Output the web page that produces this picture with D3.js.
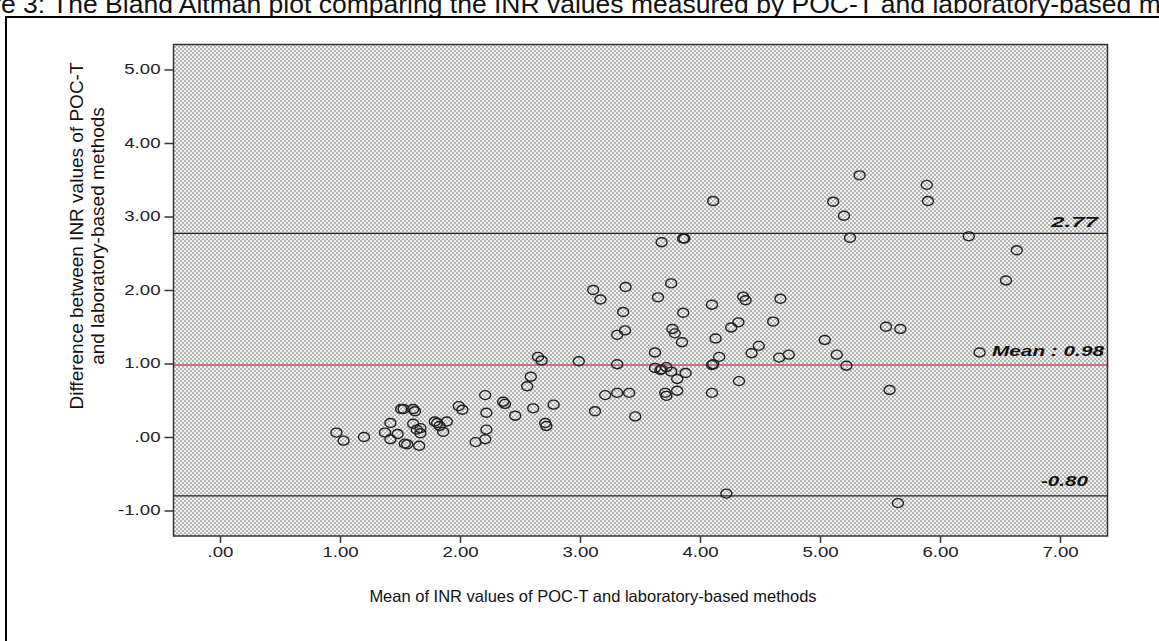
<!DOCTYPE html>
<html>
<head>
<meta charset="utf-8">
<script src="https://cdn.jsdelivr.net/npm/d3@7"></script>
<style>
  body { margin: 0; background: #fff; }
  svg { display: block; font-family: Arial, "Liberation Sans", sans-serif; }
</style>
</head>
<body>
<svg id="chart" width="1159" height="641"></svg>
<script>
// mean of the two methods (x) and their difference (y)
var meanVals = [
  0.97, 1.03, 1.20, 1.375, 1.42, 1.42, 1.48, 1.51, 1.53, 1.54, 1.56, 1.61, 1.625, 1.61, 1.64,
  1.67, 1.67, 1.66, 1.79, 1.81, 1.83, 1.89, 1.86, 1.99, 2.02, 2.13, 2.21, 2.22, 2.22, 2.21,
  3.11, 3.38, 3.76, 3.17, 3.65, 3.36, 3.86, 4.10, 4.36, 4.38, 4.67, 4.61, 4.32, 4.26, 4.13,
  3.77, 3.79, 3.85, 3.375, 3.31, 3.625, 4.49, 4.43, 4.74, 4.66, 4.16, 4.11, 4.10, 2.65, 2.68,
  2.99, 3.31, 3.625, 3.67, 3.72, 3.76, 3.88, 3.81, 3.68, 2.59, 2.56, 2.36, 2.375, 2.46, 2.61,
  2.78, 2.71, 2.72, 3.21, 3.31, 3.41, 3.125, 3.46, 3.71, 3.72, 3.81, 4.10, 4.325, 4.22,
  4.11, 3.68, 3.86, 3.87,
  5.33, 5.11, 5.20, 5.25, 5.89, 5.90, 6.24, 6.64, 6.55,
  5.55, 5.67, 5.04, 5.14, 5.22, 6.33, 5.58, 5.65
];
var diffVals = [
  0.06, -0.05, 0.00, 0.06, 0.19, -0.03, 0.04, 0.38, 0.38, -0.09, -0.10, 0.38, 0.35, 0.18, 0.10,
  0.12, 0.05, -0.12, 0.21, 0.19, 0.15, 0.21, 0.07, 0.42, 0.37, -0.07, 0.57, 0.33, 0.10, -0.03,
  2.00, 2.04, 2.09, 1.87, 1.90, 1.70, 1.69, 1.80, 1.91, 1.86, 1.88, 1.57, 1.56, 1.49, 1.34,
  1.47, 1.41, 1.29, 1.45, 1.39, 1.15, 1.24, 1.14, 1.12, 1.08, 1.09, 0.99, 0.98, 1.09, 1.04,
  1.03, 0.99, 0.94, 0.91, 0.95, 0.89, 0.87, 0.79, 0.92, 0.82, 0.69, 0.48, 0.45, 0.29, 0.39,
  0.44, 0.19, 0.15, 0.57, 0.60, 0.60, 0.35, 0.28, 0.60, 0.56, 0.63, 0.60, 0.76, -0.77,
  3.21, 2.65, 2.70, 2.70,
  3.56, 3.20, 3.01, 2.71, 3.43, 3.21, 2.73, 2.54, 2.13,
  1.50, 1.47, 1.32, 1.12, 0.97, 1.15, 0.64, -0.90
];
var xTicks = [0, 1, 2, 3, 4, 5, 6, 7];
var yTicks = [-1, 0, 1, 2, 3, 4, 5];
var refValues = [2.77, 0.98, -0.80];
var refLabels = ["2.77", "Mean : 0.98", "-0.80"];

var svg = d3.select("#chart");
var pLeft = 173.5, pRight = 1107.5, pTop = 44.5, pBottom = 536;

var x = d3.scaleLinear().domain([-0.3875, 7.396]).range([pLeft, pRight]);
var y = d3.scaleLinear().domain([-1.347, 5.34]).range([pBottom, pTop]);

function fmt(v) {
  var s = v.toFixed(2);
  return s.replace(/^0\./, ".").replace(/^-0\./, "-.");
}
function widen(sel, k) {
  sel.each(function() {
    var l = this.getComputedTextLength();
    d3.select(this).attr("textLength", l * k).attr("lengthAdjust", "spacingAndGlyphs");
  });
}

// caption cut at the top of the image
var title = svg.append("text")
  .attr("y", 13)
  .style("font-size", "26.5px")
  .style("fill", "#111")
  .text("Figure 3: The Bland Altman plot comparing the INR values measured by POC-T and laboratory-based methods");
var tmp = svg.append("text").style("font-size", "26.5px").text("Figur");
var pre = tmp.node().getComputedTextLength();
tmp.remove();
title.attr("x", -pre + 1);

// outer frame
svg.append("rect")
  .attr("x", 6).attr("y", 17).attr("width", 1200).attr("height", 700)
  .style("fill", "none").style("stroke", "#000").style("stroke-width", "2px");

// dotted fill
var defs = svg.append("defs");
var pat = defs.append("pattern").attr("id", "dots")
  .attr("patternUnits", "userSpaceOnUse").attr("width", 4).attr("height", 4);
pat.append("rect").attr("width", 4).attr("height", 4).style("fill", "#f2f2f2");
pat.append("rect").attr("x", 0).attr("y", 0).attr("width", 2).attr("height", 2).style("fill", "#b4b4b4");
pat.append("rect").attr("x", 2).attr("y", 2).attr("width", 2).attr("height", 2).style("fill", "#b4b4b4");

svg.append("rect")
  .attr("x", pLeft).attr("y", pTop).attr("width", pRight - pLeft).attr("height", pBottom - pTop)
  .style("fill", "url(#dots)");

// reference lines
svg.selectAll("line.ref").data(refValues).enter().append("line")
  .attr("class", "ref")
  .attr("x1", pLeft).attr("x2", pRight)
  .attr("y1", function(d) { return y(d); })
  .attr("y2", function(d) { return y(d); })
  .style("stroke", function(d, i) { return i == 1 ? "#c94f6d" : "#222"; })
  .style("stroke-width", function(d, i) { return i == 1 ? "1.5px" : "1.2px"; });

// points
svg.selectAll("ellipse.pt").data(meanVals).enter().append("ellipse")
  .attr("class", "pt")
  .attr("cx", function(d) { return x(d); })
  .attr("cy", function(d, i) { return y(diffVals[i]); })
  .attr("rx", 5.5).attr("ry", 4.5)
  .style("fill", "none").style("stroke", "#222").style("stroke-width", "1.4px");

// reference labels
var refX = [1098, 1104, 1088];
var refLen = [47, 112, 47];
var refDy = [-6, -9, -10];
svg.selectAll("text.ref").data(refLabels).enter().append("text")
  .attr("class", "ref")
  .attr("x", function(d, i) { return refX[i]; })
  .attr("y", function(d, i) { return y(refValues[i]) + refDy[i]; })
  .attr("text-anchor", "end")
  .attr("textLength", function(d, i) { return refLen[i]; })
  .attr("lengthAdjust", "spacingAndGlyphs")
  .style("font-size", "15px").style("font-weight", "bold").style("font-style", "italic")
  .style("fill", "#111")
  .text(function(d) { return d; });

// plot border
svg.append("rect")
  .attr("x", pLeft).attr("y", pTop).attr("width", pRight - pLeft).attr("height", pBottom - pTop)
  .style("fill", "none").style("stroke", "#333").style("stroke-width", "1.5px");

// axes
var yAxis = svg.append("g").attr("transform", "translate(" + pLeft + ",0)")
  .call(d3.axisLeft(y).tickValues(yTicks).tickFormat(fmt).tickSize(9).tickPadding(4));
var xAxis = svg.append("g").attr("transform", "translate(0," + pBottom + ")")
  .call(d3.axisBottom(x).tickValues(xTicks).tickFormat(fmt).tickSize(7).tickPadding(4));

[yAxis, xAxis].forEach(function(g) {
  g.select(".domain").remove();
  g.selectAll(".tick line").style("stroke", "#333").style("stroke-width", "1.5px");
  g.selectAll(".tick text").style("font-size", "14px").style("fill", "#222")
    .style("font-family", "Arial, 'Liberation Sans', sans-serif");
  widen(g.selectAll(".tick text"), 1.33);
});

// axis titles
svg.append("text")
  .attr("x", 593).attr("y", 602)
  .attr("text-anchor", "middle")
  .style("font-size", "16.5px").style("fill", "#111")
  .text("Mean of INR values of POC-T and laboratory-based methods");

var yt = svg.append("text")
  .attr("transform", "translate(0,236) rotate(-90)")
  .attr("text-anchor", "middle")
  .style("font-size", "19px").style("fill", "#111");
yt.append("tspan").attr("x", 0).attr("y", 83).text("Difference between INR values of POC-T");
yt.append("tspan").attr("x", 0).attr("y", 104).text("and laboratory-based methods");
</script>
</body>
</html>
